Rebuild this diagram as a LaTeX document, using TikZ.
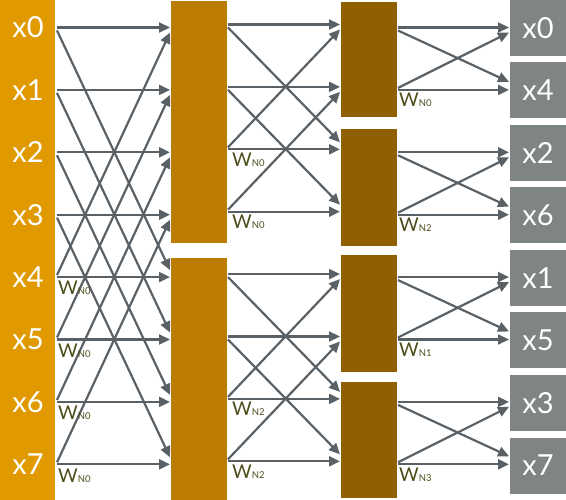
\documentclass[tikz,border=0pt]{standalone}
\usepackage{fontspec}
\setmainfont{Lato}
\usetikzlibrary{arrows.meta,calc}
\definecolor{colA}{HTML}{E09A00}
\definecolor{colB}{HTML}{BB7C00}
\definecolor{colC}{HTML}{8F5F00}
\definecolor{colD}{HTML}{7E8582}
\definecolor{arrgray}{HTML}{5A6166}
\definecolor{wcol}{HTML}{4D4D1C}
\begin{document}
\begin{tikzpicture}[x=1pt,y=-1pt,
  arr/.style={draw=arrgray, line width=2.2pt, -{Triangle[length=11pt,width=10pt]}},
  xlab/.style={text=white, font=\fontsize{29}{30}\selectfont, inner sep=0pt, anchor=center},
  wlab/.style={text=wcol, anchor=north west, inner sep=0pt}
]
\useasboundingbox (0,0) rectangle (566,500);
\newcommand{\wtxt}[1]{{\fontsize{19}{19}\selectfont W}{\fontsize{9.5}{10}\selectfont N#1}}
% blocks
\fill[colA] (0,0) rectangle (55,500);
\fill[colB] (171,1) rectangle (227,243);
\fill[colB] (171,258) rectangle (227,500);
\fill[colC] (341,2) rectangle (397,117);
\fill[colC] (341,129) rectangle (397,246);
\fill[colC] (341,255) rectangle (397,372);
\fill[colC] (341,382) rectangle (397,498);
\foreach \i in {0,...,7} {
  \fill[colD] (510,{62.5*\i}) rectangle (566,{62.5*\i+56});
}
% left labels
\foreach \t [count=\n from 0] in {x0,x1,x2,x3,x4,x5,x6,x7} {
  \pgfmathsetmacro\yy{27.5+62.4*\n}
  \node[xlab] (in\n) at (28,\yy) {\t};
}
% right labels
\foreach \t [count=\n from 0] in {x0,x4,x2,x6,x1,x5,x3,x7} {
  \pgfmathsetmacro\yy{62.5*\n+28}
  \node[xlab] (out\n) at (538,\yy) {\t};
}
% coordinates
\foreach \i in {0,...,7} {
  \pgfmathsetmacro\yy{27.5+62.4*\i}
  \pgfmathsetmacro\zz{\yy-3}
  \coordinate (a\i) at (57,\yy);
  \coordinate (au\i) at (57,\yy-2);
  \coordinate (ad\i) at (57,\yy+3);
  \coordinate (b\i) at (170,\yy);
  \coordinate (ba\i) at (170,\yy-7);
  \coordinate (bb\i) at (170,\yy+5);
  \coordinate (c\i) at (228,\zz);
  \coordinate (cu\i) at (228,\zz-2);
  \coordinate (cd\i) at (228,\zz+3);
  \coordinate (d\i) at (340,\zz);
  \coordinate (da\i) at (340,\zz-7);
  \coordinate (db\i) at (340,\zz+5);
  \coordinate (e\i) at (398,\yy);
  \coordinate (eu\i) at (398,\yy-2);
  \coordinate (ed\i) at (398,\yy+3);
  \coordinate (f\i) at (509,\yy);
  \coordinate (fa\i) at (509,\yy-8);
  \coordinate (fb\i) at (509,\yy+5);
}
% stage 1
\foreach \i in {0,...,7} { \draw[arr] (a\i) -- (b\i); }
\foreach \i [evaluate=\i as \j using int(\i+4)] in {0,...,3} {
  \draw[arr] (ad\i) -- (ba\j);
  \draw[arr] (au\j) -- (bb\i);
}
% stage 2
\foreach \i in {0,...,7} { \draw[arr] (c\i) -- (d\i); }
\foreach \i [evaluate=\i as \j using int(\i+2)] in {0,1,4,5} {
  \draw[arr] (cd\i) -- (da\j);
  \draw[arr] (cu\j) -- (db\i);
}
% stage 3
\foreach \i in {0,...,7} { \draw[arr] (e\i) -- (f\i); }
\foreach \i [evaluate=\i as \j using int(\i+1)] in {0,2,4,6} {
  \draw[arr] (ed\i) -- (fa\j);
  \draw[arr] (eu\j) -- (fb\i);
}
% twiddle labels
\foreach \i in {4,...,7} {
  \node[wlab] (wa\i) at ($(a\i)+(1,4)$) {\wtxt{0}};
}
\foreach \i/\k in {2/0,3/0,6/2,7/2} {
  \node[wlab] (wb\i) at ($(c\i)+(4,3)$) {\wtxt{\k}};
}
\foreach \i/\k in {1/0,3/2,5/1,7/3} {
  \node[wlab] (wc\i) at ($(e\i)+(1,3)$) {\wtxt{\k}};
}
\end{tikzpicture}
\end{document}
